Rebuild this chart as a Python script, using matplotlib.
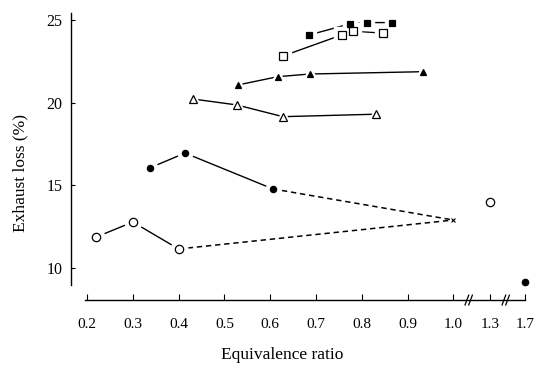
import matplotlib
matplotlib.use('Agg')
import matplotlib.pyplot as plt
import numpy as np

plt.rcParams['font.family'] = ['Liberation Serif', 'DejaVu Serif']

# x positions on the broken axis: 1.3 and 1.7 are squeezed in after 1.0
tick_vals = [0.2, 0.3, 0.4, 0.5, 0.6, 0.7, 0.8, 0.9, 1.0, 1.081, 1.157]
tick_labels = ['0.2', '0.3', '0.4', '0.5', '0.6', '0.7', '0.8', '0.9', '1.0', '1.3', '1.7']

# series
ocirc_x = [0.22, 0.30, 0.40]
ocirc_y = [11.87, 12.78, 11.15]
fcirc_x = [0.337, 0.414, 0.606]
fcirc_y = [16.05, 16.95, 14.78]
conv_x = 1.0
conv_y = 12.9
otri_x = [0.431, 0.527, 0.628, 0.832]
otri_y = [20.22, 19.86, 19.15, 19.3]
ftri_x = [0.53, 0.617, 0.687, 0.934]
ftri_y = [21.07, 21.57, 21.73, 21.87]
osq_x = [0.628, 0.756, 0.78, 0.846]
osq_y = [22.82, 24.09, 24.33, 24.2]
fsq_x = [0.685, 0.774, 0.811, 0.867]
fsq_y = [24.09, 24.76, 24.84, 24.84]
extra_ocirc = (1.081, 14.0)   # phi = 1.3
extra_fcirc = (1.157, 9.15)   # phi = 1.7

fig = plt.figure(figsize=(5.44, 3.69), dpi=100)
ax = fig.add_axes([0.1305, 0.2276, 0.84, 0.7372])

lw = 1.0

def series(x, y, marker, filled, ms, dash_last=None):
    # line first, then a white halo so lines stop short of the markers
    ax.plot(x, y, color='black', lw=lw, zorder=1)
    if dash_last is not None:
        ax.plot([x[-1], dash_last[0]], [y[-1], dash_last[1]], color='black', lw=1.1,
                linestyle=(0, (3.5, 2.5)), zorder=1)
    ax.plot(x, y, linestyle='none', marker=marker, ms=ms + 6, mfc='white', mec='white', zorder=2)
    ax.plot(x, y, linestyle='none', marker=marker, ms=ms,
            mfc='black' if filled else 'white', mec='black', mew=0.9, zorder=3)

series(ocirc_x, ocirc_y, 'o', False, 6, dash_last=(conv_x, conv_y))
series(fcirc_x, fcirc_y, 'o', True, 4.5, dash_last=(conv_x, conv_y))
series(otri_x, otri_y, '^', False, 6)
series(ftri_x, ftri_y, '^', True, 5)
series(osq_x, osq_y, 's', False, 6)
series(fsq_x, fsq_y, 's', True, 3.8)

ax.plot([conv_x], [conv_y], linestyle='none', marker='x', ms=3, mec='black', mew=0.8, zorder=3)
ax.plot([extra_ocirc[0]], [extra_ocirc[1]], linestyle='none', marker='o', ms=6,
        mfc='white', mec='black', mew=0.9, zorder=3)
ax.plot([extra_fcirc[0]], [extra_fcirc[1]], linestyle='none', marker='o', ms=4.5,
        mfc='black', mec='black', zorder=3, clip_on=False)

ax.set_xlim(0.165, 1.163)
ax.set_ylim(8.97, 25.42)

ax.spines['top'].set_visible(False)
ax.spines['right'].set_visible(False)
ax.spines['bottom'].set_position(('outward', 10.8))
ax.spines['bottom'].set_bounds(0.1956, 1.157)
ax.spines['left'].set_linewidth(1.0)
ax.spines['bottom'].set_linewidth(1.0)

ax.set_xticks(tick_vals)
ax.set_xticklabels(tick_labels)
ax.set_yticks([10, 15, 20, 25])
ax.tick_params(axis='x', direction='in', length=4, width=0.8, pad=13, labelsize=11)
ax.tick_params(axis='y', direction='in', length=3, width=0.8, pad=6, labelsize=11.5)

# break marks on the x axis line
spine_y = -15.0 / (0.7372 * 369)
for bx in [1.0336, 1.1145]:
    for dx in [-0.004, 0.004]:
        ax.plot([bx + dx - 0.004, bx + dx + 0.004], [spine_y - 0.018, spine_y + 0.018],
                transform=ax.get_xaxis_transform(), color='black', lw=0.9, clip_on=False)

ax.set_ylabel('Exhaust loss (%)', fontsize=12.5)
ax.yaxis.set_label_coords(-0.094, 0.41)
ax.set_xlabel('Equivalence ratio', fontsize=12.5)
ax.xaxis.set_label_coords(0.463, -0.228)

fig.savefig('out.png', dpi=100)
